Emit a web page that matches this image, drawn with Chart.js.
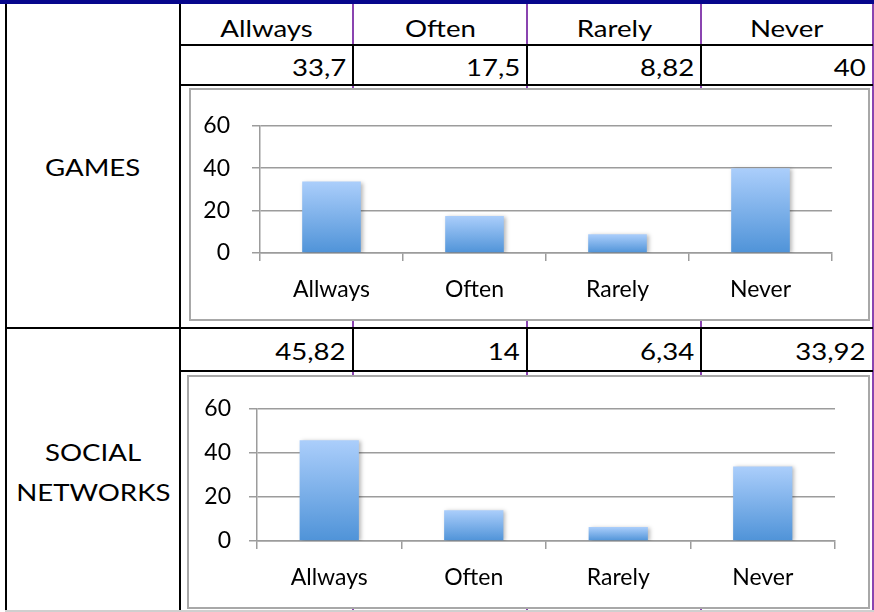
<!DOCTYPE html>
<html>
<head>
<meta charset="utf-8">
<script src="https://cdn.jsdelivr.net/npm/chart.js@4.4.1/dist/chart.umd.min.js"></script>
<style>
html, body { margin: 0; padding: 0; background: #fff; }
#sheet { position: relative; width: 874px; height: 612px; overflow: hidden; font-family: Lato, sans-serif; color: #000; }
.ln { position: absolute; }
.txt { position: absolute; font-size: 23px; line-height: 28px; white-space: nowrap; }
.txt span { display: inline-block; transform: scaleX(1.2); }
.box { position: absolute; box-sizing: border-box; border: 2px solid #a8a8a8; background: #fff; }
.box canvas { display: block; }
</style>
</head>
<body>
<div id="sheet"></div>
<script>
// data
const categories = ['Allways', 'Often', 'Rarely', 'Never'];
const gamesValues = [33.7, 17.5, 8.82, 40];
const socialValues = [45.82, 14, 6.34, 33.92];
const rowNames = [['GAMES'], ['SOCIAL', 'NETWORKS']];
const yTicks = [0, 20, 40, 60];

const sheet = document.getElementById('sheet');
const colEdges = [180, 353, 527, 701, 873];
const PURPLE = '#8a44b0';
const GRID = '#9c9c9c';

function line(x, y, w, h, color) {
    const d = document.createElement('div');
    d.className = 'ln';
    d.style.cssText = `left:${x}px;top:${y}px;width:${w}px;height:${h}px;background:${color}`;
    sheet.appendChild(d);
}

function text(str, x, y, w, align) {
    const d = document.createElement('div');
    d.className = 'txt';
    d.style.left = x + 'px';
    d.style.top = y + 'px';
    d.style.width = w + 'px';
    d.style.textAlign = align;
    const s = document.createElement('span');
    s.textContent = str;
    s.style.transformOrigin = align === 'right' ? 'right center' : 'center center';
    d.appendChild(s);
    sheet.appendChild(d);
}

const fmt = v => String(v).replace('.', ',');

// title bar and purple column rules (sit behind chart boxes)
line(0, 0, 874, 4, '#06068c');
for (let i = 1; i < colEdges.length; i++) {
    line(colEdges[i] - 0.7, 4, 1.6, 608, PURPLE);
}

// black rules
line(5, 4, 2, 608, '#000');
line(179, 4, 2, 608, '#000');
line(180, 44, 693, 2, '#000');
line(180, 84, 693, 2, '#000');
line(5, 327, 868, 2, '#000');
line(180, 370, 693, 2, '#000');
line(5, 610, 869, 2, '#cfcfcf');
for (let i = 1; i < colEdges.length - 1; i++) {
    line(colEdges[i] - 1, 46, 2, 38, '#000');
    line(colEdges[i] - 1, 329, 2, 41, '#000');
}

// header + value rows
categories.forEach((c, i) => {
    const x0 = colEdges[i], x1 = colEdges[i + 1];
    text(c, x0, 14, x1 - x0, 'center');
    text(fmt(gamesValues[i]), x0, 53, x1 - x0 - 7, 'right');
    text(fmt(socialValues[i]), x0, 337, x1 - x0 - 7, 'right');
});

// row names
rowNames[0].forEach((t, k) => text(t, 6, 153 + k * 40, 174, 'center'));
rowNames[1].forEach((t, k) => text(t, 6, 438 + k * 40, 174, 'center'));

function barGradient(context) {
    const chart = context.chart;
    if (context.type !== 'data' || !chart.chartArea) return '#7fb2ea';
    const y = chart.scales.y;
    const top = y.getPixelForValue(context.raw);
    const base = y.getPixelForValue(0);
    const g = chart.ctx.createLinearGradient(0, top, 0, base);
    g.addColorStop(0, '#abcefb');
    g.addColorStop(1, '#4f93d8');
    return g;
}

const barShadow = {
    id: 'barShadow',
    beforeDatasetsDraw(chart) {
        const ctx = chart.ctx;
        ctx.save();
        ctx.shadowColor = 'rgba(0,0,0,0.28)';
        ctx.shadowBlur = 4;
        ctx.shadowOffsetX = 2;
        ctx.shadowOffsetY = 1;
    },
    afterDatasetsDraw(chart) {
        chart.ctx.restore();
    }
};

function makeChart(values, lay) {
    const box = document.createElement('div');
    box.className = 'box';
    box.style.cssText = `left:${lay.left}px;top:${lay.top}px;width:${lay.w}px;height:${lay.h}px`;
    const canvas = document.createElement('canvas');
    canvas.width = lay.w - 4;
    canvas.height = lay.h - 4;
    box.appendChild(canvas);
    sheet.appendChild(box);

    return new Chart(canvas.getContext('2d'), {
        type: 'bar',
        data: {
            labels: categories,
            datasets: [{
                data: values,
                backgroundColor: barGradient,
                borderWidth: 0,
                categoryPercentage: 1,
                barPercentage: 0.41
            }]
        },
        plugins: [barShadow],
        options: {
            responsive: false,
            animation: false,
            devicePixelRatio: 1,
            layout: { padding: { top: lay.padTop, right: lay.padRight, left: 0, bottom: 0 } },
            plugins: { legend: { display: false }, tooltip: { enabled: false } },
            scales: {
                x: {
                    grid: { offset: true, drawOnChartArea: false, drawTicks: true, tickLength: 8, color: GRID, lineWidth: 1.5 },
                    border: { display: true, color: GRID, width: 1.5 },
                    ticks: { color: '#000', font: { family: 'Lato', size: 23 }, padding: lay.xPad, maxRotation: 0 },
                    afterFit: s => { s.height = lay.xHeight; }
                },
                y: {
                    min: yTicks[0],
                    max: yTicks[yTicks.length - 1],
                    grid: { color: GRID, lineWidth: 1.5, tickLength: 8 },
                    border: { display: true, color: GRID, width: 1.5 },
                    ticks: { stepSize: yTicks[1] - yTicks[0], color: '#000', font: { family: 'Lato', size: 23 }, padding: lay.yPad },
                    afterFit: s => { s.width = lay.yWidth; }
                }
            }
        }
    });
}

const layouts = [
    { left: 189, top: 88, w: 681, h: 233, padTop: 34, padRight: 36, yWidth: 69, xHeight: 66, yPad: 22, xPad: 15 },
    { left: 187, top: 375, w: 683, h: 234, padTop: 32, padRight: 33, yWidth: 68, xHeight: 66, yPad: 18, xPad: 15 }
];

makeChart(gamesValues, layouts[0]);
makeChart(socialValues, layouts[1]);
</script>
</body>
</html>
